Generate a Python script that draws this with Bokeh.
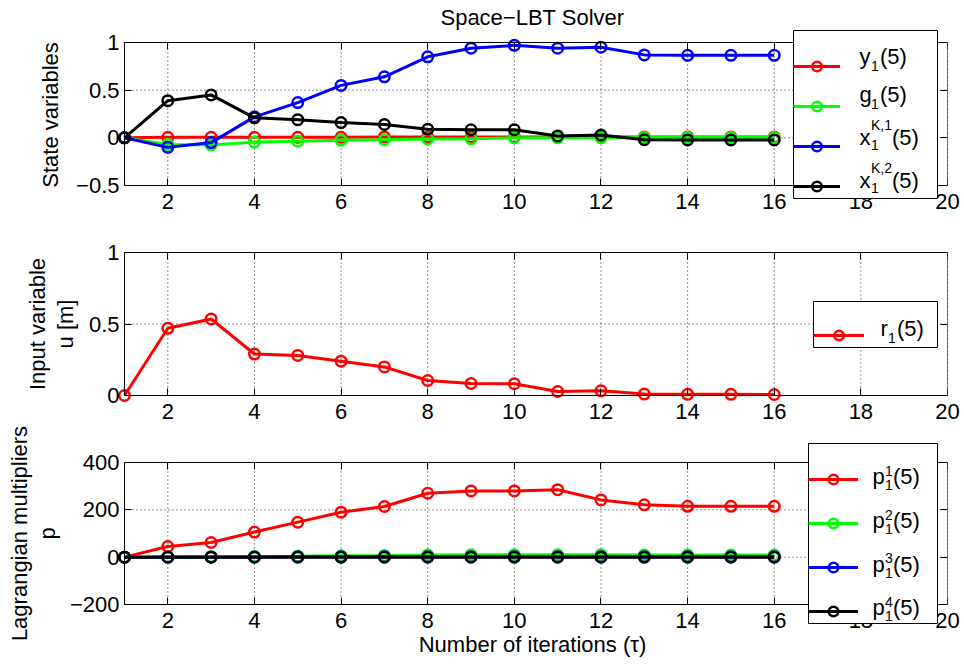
from bokeh.plotting import figure
from bokeh.layouts import column
from bokeh.models import (LinearAxis, FixedTicker, Legend, LegendItem, Label, Title,
                          BoxAnnotation, Range1d, CustomJSTickFormatter)
from bokeh.embed import file_html
from bokeh.resources import INLINE

# ---------------------------------------------------------------- data
iterations = list(range(1, 17))

# state variables
y1_state = [0, 0.005, 0.005, 0.005, 0.005, 0.005, 0.01, 0.01, 0.01, 0.01, 0.01, 0.01, 0.01, 0.01, 0.01, 0.01]
g1_state = [0, -0.07, -0.075, -0.045, -0.035, -0.025, -0.02, -0.012, -0.01, 0.0, 0.0, 0.0, 0.003, 0.003, 0.003, 0.003]
xk1_state = [0, -0.10, -0.05, 0.22, 0.37, 0.55, 0.64, 0.85, 0.94, 0.97, 0.94, 0.95, 0.87, 0.865, 0.865, 0.865]
xk2_state = [0, 0.39, 0.45, 0.21, 0.19, 0.16, 0.14, 0.09, 0.085, 0.085, 0.02, 0.03, -0.02, -0.022, -0.022, -0.022]

# input variable
r1_input = [0, 0.47, 0.535, 0.29, 0.28, 0.24, 0.20, 0.105, 0.084, 0.082, 0.028, 0.033, 0.01, 0.008, 0.008, 0.007]

# Lagrangian multipliers
p1_mult = [0, 45, 62, 106, 148, 190, 214, 270, 280, 280, 285, 242, 221, 215, 215, 215]
p2_mult = [0, 1, 2, 3, 4, 6, 7, 9, 10, 10, 10, 10, 9, 9, 9, 9]
p3_mult = [0, 0.5, 1, 1, 1.5, 1.5, 2, 2, 2, 2, 2, 2, 2, 2, 2, 2]
p4_mult = [0, 0, 0, 0, 0, 0, 0, 0, 0, 0, 0, 0, 0, 0, 0, 0]

x_lo, x_hi = 1, 20
x_ticks = [2, 4, 6, 8, 10, 12, 14, 16, 18, 20]
state_ticks = [-0.5, 0, 0.5, 1]
state_tick_labels = ["\u22120.5", "0", "0.5", "1"]
input_ticks = [0, 0.5, 1]
input_tick_labels = ["0", "0.5", "1"]
mult_ticks = [-200, 0, 200, 400]
mult_tick_labels = ["\u2212200", "0", "200", "400"]

# ---------------------------------------------------------------- style / page layout (pixels)
FONT = "Liberation Sans"
BIG = "22px"
SMALL = "14px"
W = 964
BOX_LEFT, BOX_RIGHT = 124, 947     # axes box, left/right edges
EXT_LEFT = 7                       # plotting area reaches a bit left of the box
RED, GREEN, BLUE, BLACK = "#ff0000", "#00ff00", "#0000ff", "#000000"
GRID_COLOR = "#222222"


def box_axis(ticks, loc, bounds):
    """Unlabelled axis that draws one edge of the axes box with inward ticks."""
    return LinearAxis(ticker=FixedTicker(ticks=ticks), fixed_location=loc, bounds=bounds,
                      formatter=CustomJSTickFormatter(code="return ''"),
                      major_label_text_font_size="0px", major_label_standoff=0,
                      major_tick_in=7, major_tick_out=0,
                      minor_tick_line_color=None,
                      axis_line_color="black", axis_line_width=1,
                      major_tick_line_color="black")


class Panel:
    def __init__(self, oy, height, box_top, box_bottom, ext_top, ext_bottom,
                 y_lo, y_hi, yticks, ylabels, ylabel, ylabel_standoff):
        self.oy = oy
        self.box_bottom = box_bottom
        self.y_lo = y_lo
        self.frame_left = BOX_LEFT - EXT_LEFT
        self.frame_top = box_top - ext_top - oy
        self.frame_bottom = box_bottom + ext_bottom - oy
        self.xpp = (x_hi - x_lo) / (BOX_RIGHT - BOX_LEFT)
        self.ypp = (y_hi - y_lo) / (box_bottom - box_top)
        p = figure(width=W, height=height,
                   x_range=Range1d(x_lo - EXT_LEFT * self.xpp, x_hi),
                   y_range=Range1d(y_lo - ext_bottom * self.ypp, y_hi + ext_top * self.ypp),
                   output_backend="svg", toolbar_location=None,
                   min_border_left=self.frame_left, min_border_right=W - BOX_RIGHT,
                   min_border_top=self.frame_top, min_border_bottom=height - self.frame_bottom,
                   background_fill_color="white", border_fill_color=None)
        p.outline_line_color = None
        p.xgrid.visible = False
        p.ygrid.visible = False

        # tick-label axes sit on the plotting-area edges; the box is drawn separately
        xa, ya = p.below[0], p.left[0]
        xa.ticker = FixedTicker(ticks=x_ticks)
        xa.bounds = (x_lo, x_hi)
        ya.ticker = FixedTicker(ticks=yticks)
        ya.bounds = (y_lo, y_hi)
        ya.major_label_overrides = dict(zip(yticks, ylabels))
        for ax in (xa, ya):
            ax.axis_line_color = None
            ax.major_tick_line_color = None
            ax.minor_tick_line_color = None
            ax.major_tick_out = 0
            ax.major_tick_in = 0
            ax.major_label_text_font = FONT
            ax.major_label_text_font_size = BIG
            ax.major_label_text_color = "black"
            ax.axis_label_text_font = FONT
            ax.axis_label_text_font_size = BIG
            ax.axis_label_text_font_style = "normal"
            ax.axis_label_text_color = "black"
        xa.major_label_standoff = 8 - ext_bottom
        ya.major_label_standoff = 5 - EXT_LEFT
        ya.axis_label = ylabel
        ya.axis_label_standoff = ylabel_standoff

        # axes box with inward ticks
        p.add_layout(box_axis(x_ticks, y_lo, (x_lo, x_hi)), "below")
        p.add_layout(box_axis(x_ticks, y_hi, (x_lo, x_hi)), "above")
        p.add_layout(box_axis(yticks, x_lo, (y_lo, y_hi)), "left")
        p.add_layout(box_axis(yticks, x_hi, (y_lo, y_hi)), "right")

        # dotted grid inside the box
        p.segment(x0=x_ticks, y0=[y_lo] * len(x_ticks), x1=x_ticks, y1=[y_hi] * len(x_ticks),
                  line_color=GRID_COLOR, line_dash="1 3", line_width=1)
        p.segment(x0=[x_lo] * len(yticks), y0=yticks, x1=[x_hi] * len(yticks), y1=yticks,
                  line_color=GRID_COLOR, line_dash="1 3", line_width=1)
        self.p = p
        self.xaxis = xa

    # page pixel position -> data position of this panel
    def dx(self, X):
        return x_lo + (X - BOX_LEFT) * self.xpp

    def dy(self, Y):
        return self.y_lo + (self.box_bottom - Y) * self.ypp

    def outer_ylabel(self, text, standoff):
        self.p.add_layout(Title(text=text, align="center", standoff=standoff,
                                text_font=FONT, text_font_size=BIG, text_font_style="normal",
                                text_color="black"), "left")

    def series(self, ys, color):
        ln = self.p.line(iterations, ys, line_color=color, line_width=3)
        sc = self.p.scatter(iterations, ys, marker="circle", size=10.5, fill_color=None,
                            line_color=color, line_width=2.5)
        return [ln, sc]

    def legend(self, renderer_sets, box_left, box_right, box_top, box_bottom,
               glyph_width, label_width, padding, spacing):
        # white legend frame
        self.p.add_layout(BoxAnnotation(left=self.dx(box_left), right=self.dx(box_right),
                                        top=self.dy(box_top), bottom=self.dy(box_bottom),
                                        fill_color="white", fill_alpha=1,
                                        line_color="black", line_width=1, line_alpha=1))
        # line + marker samples
        items = [LegendItem(label=" ", renderers=rs) for rs in renderer_sets]
        leg = Legend(items=items,
                     location=(box_left - self.frame_left, self.frame_bottom - (box_bottom - self.oy)),
                     padding=padding, spacing=spacing, margin=0,
                     glyph_width=glyph_width, glyph_height=24, label_height=24,
                     label_width=label_width, label_standoff=0,
                     label_text_font_size="1px",
                     border_line_color=None, background_fill_alpha=0)
        self.p.add_layout(leg, "center")

    def text(self, X, Y, text, size):
        self.p.add_layout(Label(x=self.dx(X), y=self.dy(Y), level="overlay",
                                text=text, text_font=FONT, text_font_size=size,
                                text_color="black", text_baseline="alphabetic", text_align="left"))

    def entry(self, xs, baseline, main, sub, sup, sub_dy, sup_dy):
        x_main, x_script, x_paren = xs
        self.text(x_main, baseline, main, BIG)
        self.text(x_script, baseline + sub_dy, sub, SMALL)
        if sup:
            self.text(x_script, baseline - sup_dy, sup, SMALL)
        self.text(x_paren, baseline, "(5)", BIG)


# ---------------------------------------------------------------- state variables
P1 = Panel(0, 220, 42, 185, 13, 15, -0.5, 1, state_ticks, state_tick_labels, "State variables", 10)
p1 = P1.p
p1.title.text = "Space\u2212LBT Solver"
p1.title.align = "center"
p1.title.text_font = FONT
p1.title.text_font_size = BIG
p1.title.text_font_style = "normal"
p1.title.text_color = "black"
p1.title.standoff = 0
r_y = P1.series(y1_state, RED)
r_g = P1.series(g1_state, GREEN)
r_x1 = P1.series(xk1_state, BLUE)
r_x2 = P1.series(xk2_state, BLACK)
P1.legend([r_y, r_g, r_x1, r_x2], 793, 937, 30, 198, 47, 73, 12, 16)
P1.entry((859, 870.5, 879.5), 56, "y", "1", None, 9, 0)
P1.entry((859, 870.5, 879.5), 94, "g", "1", None, 9, 0)
P1.entry((859, 870.5, 891.5), 136.5, "x", "1", "K,1", 7.5, 12.5)
P1.entry((859, 870.5, 891.5), 180, "x", "1", "K,2", 7.5, 12.5)

# ---------------------------------------------------------------- input variable
P2 = Panel(220, 210, 252, 395, 7, 7, 0, 1, input_ticks, input_tick_labels, "u [m]", 8)
P2.outer_ylabel("Input variable", 0)
r_r = P2.series(r1_input, RED)
P2.legend([r_r], 813, 937, 301, 347, 51, 51, 11, 0)
P2.entry((880, 887.5, 896.5), 328.3, "r", "1", None, 9, 0)

# ---------------------------------------------------------------- Lagrangian multipliers
P3 = Panel(418, 248, 462, 604, 20, 20, -200, 400, mult_ticks, mult_tick_labels, "p", 7)
P3.outer_ylabel("Lagrangian multipliers", 0)
P3.xaxis.axis_label = "Number of iterations (\u03c4)"
P3.xaxis.axis_label_standoff = 1
r_p1 = P3.series(p1_mult, RED)
r_p2 = P3.series(p2_mult, GREEN)
r_p3 = P3.series(p3_mult, BLUE)
r_p4 = P3.series(p4_mult, BLACK)
P3.legend([r_p1, r_p2, r_p3, r_p4], 808, 937, 443, 623, 50, 55, 12, 20)
for i, bl in enumerate([476, 520, 563.5, 607]):
    P3.entry((872, 884.5, 892.5), bl, "p", "1", str(i + 1), 8.5, 6)
# the multiplier panel starts a little higher so its long axis label fits
P3.p.margin = (-12, 0, 0, 0)

layout = column(P1.p, P2.p, P3.p, spacing=0)
open("out.html", "w").write(file_html(layout, INLINE))
